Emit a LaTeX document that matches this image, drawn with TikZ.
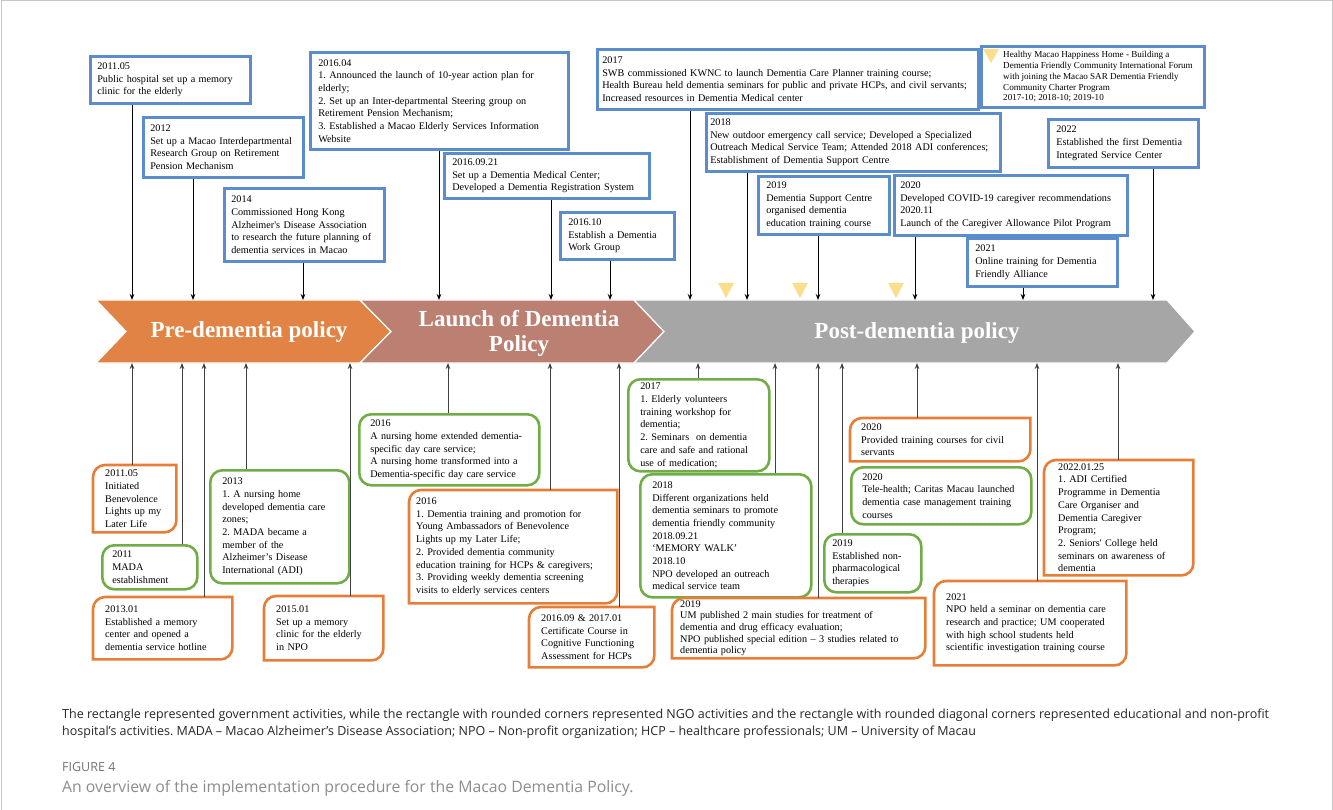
\documentclass[tikz,border=0pt]{standalone}
\usepackage{fontspec}
\setmainfont{Liberation Serif}
\newfontfamily\capfont{Open Sans}
\usetikzlibrary{arrows.meta}
\definecolor{govblue}{RGB}{91,141,205}
\definecolor{ngogreen}{RGB}{112,173,71}
\definecolor{eduorange}{RGB}{231,126,56}
\definecolor{preorange}{RGB}{224,131,69}
\definecolor{launchbrown}{RGB}{187,128,113}
\definecolor{postgray}{RGB}{166,166,166}
\definecolor{markyellow}{RGB}{250,222,140}
\frenchspacing

\begin{document}
\begin{tikzpicture}[x=1pt, y=-1pt, >={Stealth[length=6pt,width=4.6pt]},
    every node/.style={font=\fontsize{10.2}{12.7}\selectfont},
    gov/.style={draw=govblue, line width=2.6pt, align=left, inner xsep=8pt, inner ysep=3pt, anchor=north west},
    ngo/.style={draw=ngogreen, line width=2.6pt, rounded corners=12pt, align=left, inner xsep=12pt, inner ysep=3pt, anchor=north west},
    edu/.style={align=left, inner xsep=12pt, inner ysep=3pt, anchor=north west},
    eduline/.style={draw=eduorange, line width=2.6pt},
    chev/.style={draw=white, line width=1.2pt},
    band/.style={text=white, font=\fontsize{23}{25}\selectfont\bfseries, align=center},
    arr/.style={->, line width=1pt},
    ymark/.style={fill=markyellow}]
  \useasboundingbox (0,0) rectangle (1333,810);
  %--- Frame
  \draw[black!22, line width=1pt] (1,810) -- (1,1) -- (1332,1) -- (1332,810);
  %--- Phases
  \filldraw[chev, fill=preorange] (96,300) -- (360,300) -- (391,331.5) -- (360,363) -- (96,363) -- (126,331.5) -- cycle;
  \filldraw[chev, fill=launchbrown] (360,300) -- (634,300) -- (664,331.5) -- (634,363) -- (360,363) -- (391,331.5) -- cycle;
  \filldraw[chev, fill=postgray] (634,300) -- (1167,300) -- (1195,331.5) -- (1167,363) -- (634,363) -- (664,331.5) -- cycle;
  \node[band] (pre) at (249,332) {Pre-dementia policy};
  \node[band] (launch) at (519,333) {Launch of Dementia\\Policy};
  \node[band] (post) at (917,333) {Post-dementia policy};
  %--- Government activities (above)
  \node[gov, inner xsep=7pt, text width=146pt, minimum height=47] (t1) at (89,55) {2011.05\\Public hospital set up a memory\\clinic for the elderly};
  \node[gov, inner xsep=7pt, text width=146pt, minimum height=60] (t2) at (142,116) {2012\\Set up a Macao Interdepartmental\\Research Group on Retirement\\Pension Mechanism};
  \node[gov, inner xsep=7pt, text width=146pt, minimum height=73] (t3) at (223,187) {2014\\Commissioned Hong Kong\\Alzheimer\textquotesingle s Disease Association\\to research the future planning of\\dementia services in Macao};
  \node[gov, text width=242pt, minimum height=97] (t4) at (309,51) {2016.04\\1. Announced the launch of 10-year action plan for\\elderly;\\2. Set up an Inter-departmental Steering group on\\Retirement Pension Mechanism;\\3. Established a Macao Elderly Services Information\\Website};
  \node[gov, text width=189pt, minimum height=45] (t5) at (443,152) {2016.09.21\\Set up a Dementia Medical Center;\\Developed a Dementia Registration System};
  \node[gov, text width=98pt, minimum height=47] (t6) at (559,211) {2016.10\\Establish a Dementia\\Work Group};
  \node[gov, inner xsep=5pt, text width=371pt, minimum height=60] (t7) at (596,48) {2017\\SWB commissioned KWNC to launch Dementia Care Planner training course;\\Health Bureau held dementia seminars for public and private HCPs, and civil servants;\\Increased resources in Dementia Medical center};
  \node[gov, inner xsep=4pt, text width=286pt, minimum height=58] (t8) at (705,112) {2018\\New outdoor emergency call service; Developed a Specialized\\Outreach Medical Service Team; Attended 2018 ADI conferences;\\Establishment of Dementia Support Centre};
  \node[gov, text width=115pt, minimum height=58] (t9) at (757,175) {2019\\Dementia Support Centre\\organised dementia\\education training course};
  \node[gov, minimum width=223, minimum height=61] (t10) at (980,45) {};
  \node[anchor=west, align=left, inner sep=0pt, font=\fontsize{9.1}{10.8}\selectfont] (t10txt) at ([xshift=23]t10.west) {Healthy Macao Happiness Home - Building a\\Dementia Friendly Community International Forum\\with joining the Macao SAR Dementia Friendly\\Community Charter Program\\2017-10; 2018-10; 2019-10};
  \fill[ymark] ([shift={(3,4)}]t10.north west) -- ++(16,0) -- ++(-8,14) -- cycle;
  \node[gov, inner xsep=6pt, text width=221pt, minimum height=60] (t11) at (893,174) {2020\\Developed COVID-19 caregiver recommendations\\2020.11\\Launch of the Caregiver Allowance Pilot Program};
  \node[gov, text width=134pt, minimum height=48] (t12) at (966,237) {2021\\Online training for Dementia\\Friendly Alliance};
  \node[gov, text width=134pt, minimum height=48] (t13) at (1047,118) {2022\\Established the first Dementia\\Integrated Service Center};
  %--- Markers on the band
  \foreach \x in {726,800,896}
    \fill[ymark] (\x-8,283) -- (\x+8,283) -- (\x,298) -- cycle;
  %--- NGO activities (rounded) and educational / hospital activities (diagonal)
  \node[edu, text width=59pt, minimum height=67] (b1) at (93,465) {2011.05\\Initiated\\Benevolence\\Lights up my\\Later Life};
  \node[ngo, inner xsep=10pt, text width=75pt, minimum height=44] (b2) at (101,544) {2011\\MADA\\establishment};
  \node[edu, text width=115pt, minimum height=62] (b3) at (93,597) {2013.01\\Established a memory\\center and opened a\\dementia service hotline};
  \node[ngo, text width=115pt, minimum height=113] (b4) at (209,469) {2013\\1. A nursing home\\developed dementia care\\zones;\\2. MADA became a\\member of the\\Alzheimer’s Disease\\International (ADI)};
  \node[edu, text width=95pt, minimum height=64] (b5) at (264,596) {2015.01\\Set up a memory\\clinic for the elderly\\in NPO};
  \node[ngo, inner xsep=11pt, text width=158pt, minimum height=71] (b6) at (358,413) {2016\\A nursing home extended dementia-\\specific day care service;\\A nursing home transformed into a\\Dementia-specific day care service};
  \node[edu, inner xsep=7pt, text width=194pt, minimum height=113] (b7) at (409,490) {2016\\1. Dementia training and promotion for\\Young Ambassadors of Benevolence\\Lights up my Later Life;\\2. Provided dementia community\\education training for HCPs \& caregivers;\\3. Providing weekly dementia screening\\visits to elderly services centers};
  \node[edu, text width=101pt, minimum height=60] (b8) at (529,607) {2016.09 \& 2017.01\\Certificate Course in\\Cognitive Functioning\\Assessment for HCPs};
  \node[ngo, text width=117pt, minimum height=92] (b9) at (627,378) {2017\\1. Elderly volunteers\\training workshop for\\dementia;\\2. Seminars\ \ on dementia\\care and safe and rational\\use of medication;};
  \node[ngo, text width=147pt, minimum height=123] (b10) at (639,473) {2018\\Different organizations held\\dementia seminars to promote\\dementia friendly community\\2018.09.21\\`MEMORY WALK'\\2018.10\\NPO developed an outreach\\medical service team};
  \node[edu, inner xsep=8pt, inner ysep=2pt, text width=237pt, minimum height=60, font=\fontsize{10.2}{11.6}\selectfont] (b11) at (672,598) {2019\\UM published 2 main studies for treatment of\\dementia and drug efficacy evaluation;\\NPO published special edition -- 3 studies related to\\dementia policy};
  \node[ngo, inner xsep=8pt, text width=81pt, minimum height=58] (b12) at (823,533) {2019\\Established non-\\pharmacological\\therapies};
  \node[edu, inner xsep=11pt, text width=158pt, minimum height=43] (b13) at (850,418) {2020\\Provided training courses for civil\\servants};
  \node[ngo, inner xsep=11pt, text width=158pt, minimum height=57] (b14) at (850,466) {2020\\Tele-health; Caritas Macau launched\\dementia case management training\\courses};
  \node[edu, inner xsep=14pt, inner ysep=1pt, text width=121pt, minimum height=115] (b15) at (1044,460) {2022.01.25\\1. ADI Certified\\Programme in Dementia\\Care Organiser and\\Dementia Caregiver\\Program;\\2. Seniors\textquotesingle\ College held\\seminars on awareness of\\dementia};
  \node[edu, text width=168pt, minimum height=84] (b16) at (934,581) {2021\\NPO held a seminar on dementia care\\research and practice; UM cooperated\\with high school students held\\scientific investigation training course};
  \foreach \n in {b1,b3,b5,b7,b8,b11,b13,b15,b16}
    \draw[eduline] (\n.north) -- (\n.north east) -- (\n.east) [rounded corners=12pt] -- (\n.south east) -- (\n.south) [sharp corners] -- (\n.south west) -- (\n.west) [rounded corners=12pt] -- (\n.north west) -- cycle;
  %--- Connectors to the band
  \foreach \n/\x in {t1/132,t2/193,t3/303,t4/439,t5/551,t6/610,t7/690,t8/747,t9/818,t11/915,t12/1023,t13/1153}{
    \coordinate (\n-in) at (\x,300);
    \draw[arr] (\n.south -| \n-in) -- (\n-in);
  }
  \foreach \n/\x in {b1/132,b2/182,b3/204,b4/246,b5/350,b6/448,b7/550,b8/619,b9/698,b10/775,b11/818,b12/842,b13/917,b16/1037,b15/1118}{
    \coordinate (\n-in) at (\x,363);
    \draw[arr, black!75] (\n.north -| \n-in) -- (\n-in);
  }
  %--- Caption
  \node[anchor=north west, align=left, inner sep=0pt, text=black!85, font=\capfont\fontsize{12.5}{17}\selectfont] (note) at (62,709) {The rectangle represented government activities, while the rectangle with rounded corners represented NGO activities and the rectangle with rounded diagonal corners represented educational and non-profit\\hospital’s activities. MADA – Macao Alzheimer’s Disease Association; NPO – Non-profit organization; HCP – healthcare professionals; UM – University of Macau};
  \node[anchor=north west, inner sep=0pt, text=black!55, font=\capfont\fontsize{12.5}{14}\selectfont] (fig) at (62,762) {FIGURE 4};
  \node[anchor=north west, inner sep=0pt, text=black!45, font=\capfont\fontsize{15.8}{18}\selectfont] (title) at (62,780) {An overview of the implementation procedure for the Macao Dementia Policy.};
\end{tikzpicture}
\end{document}
